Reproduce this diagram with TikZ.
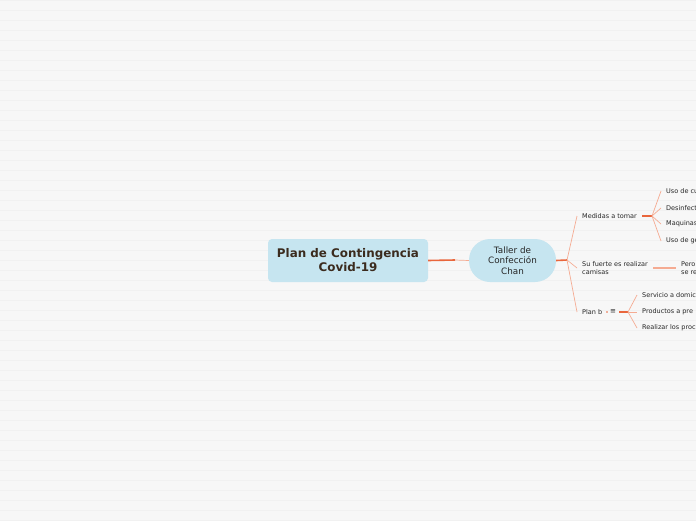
\documentclass[tikz,border=0pt]{standalone}
\usepackage{fontspec}
\setmainfont{DejaVu Sans}
\usepackage{tikz}
\definecolor{bgcol}{HTML}{F7F7F7}
\definecolor{stripe}{HTML}{F1F1F1}
\definecolor{nodefill}{HTML}{C6E5F0}
\definecolor{thickline}{HTML}{E9663C}
\definecolor{thinline}{HTML}{F5AB92}
\definecolor{roottext}{HTML}{3B2B1E}
\definecolor{leaftext}{HTML}{262626}

\begin{document}
\begin{tikzpicture}[x=1pt,y=-1pt,
  rootbox/.style={fill=nodefill, rounded corners=4pt, minimum width=160pt, minimum height=43pt, align=center, font=\fontsize{11.9}{14}\selectfont\bfseries, text=roottext, inner sep=0pt},
  mainbox/.style={fill=nodefill, rounded corners=21pt, minimum width=87pt, minimum height=43pt, align=center, font=\fontsize{8.8}{10.5}\selectfont, text=leaftext, inner sep=0pt},
  leaf/.style={anchor=west, inner xsep=5pt, inner ysep=0pt, font=\fontsize{6.5}{8}\selectfont, text=leaftext, align=left},
  thicklink/.style={draw=thickline, line width=1.6pt},
  thinlink/.style={draw=thinline, line width=0.7pt}]
 \useasboundingbox (0,0) rectangle (696,520);
 \clip (0,0) rectangle (696,520);
 \fill[bgcol] (0,0) rectangle (696,520);
 \foreach \y in {0,10,...,520}
  \draw[stripe, line width=1pt] (0,\y) -- (696,\y);

 \node[rootbox] (plan) at (348,260.5) {Plan de Contingencia\\Covid-19};
 \node[mainbox] (taller) at (512.5,260.5) {Taller de\\Confección\\Chan};

 \coordinate (r0) at (455,260);
 \coordinate (t0) at (567,260);
 \coordinate (m0) at (652,216);
 \coordinate (p0) at (628,312);

 \node[leaf] (medidas) at (577,216) {Medidas a tomar};
 \node[leaf] (fuerte) at (577,268) {Su fuerte es realizar\\camisas};
 \node[leaf] (planb) at (577,312) {Plan b};
 \fill[thickline] (607,312) circle (0.9pt);
 \node[inner sep=0pt, font=\fontsize{7}{8}\selectfont, text=leaftext] (icon) at (613,312) {≡};

 \node[leaf] (m1) at (661,191) {Uso de cu};
 \node[leaf] (m2) at (661,208) {Desinfect};
 \node[leaf] (m3) at (661,224) {Maquinas};
 \node[leaf] (m4) at (661,241) {Uso de ge};
 \node[leaf] (pero) at (676,268) {Pero\\se re};
 \node[leaf] (p1) at (637,295) {Servicio a domic};
 \node[leaf] (p2) at (637,312) {Productos a pre};
 \node[leaf] (p3) at (637,328) {Realizar los proc};

 \draw[thicklink] (plan.east) -- (r0);
 \draw[thinlink] (r0) -- (taller.west);
 \draw[thicklink] (taller.east) -- (t0);
 \draw[thinlink] (t0) -- (medidas.west);
 \draw[thinlink] (t0) -- (fuerte.west);
 \draw[thinlink] (t0) -- (planb.west);
 \draw[thicklink] (medidas.east) -- (m0);
 \foreach \n in {m1,m2,m3,m4}
  \draw[thinlink] (m0) -- (\n.west);
 \draw[thinlink, line width=1.2pt] (fuerte.east) -- (pero.west);
 \draw[thicklink] ([xshift=3pt]icon.east) -- (p0);
 \foreach \n in {p1,p2,p3}
  \draw[thinlink] (p0) -- (\n.west);
\end{tikzpicture}
\end{document}
